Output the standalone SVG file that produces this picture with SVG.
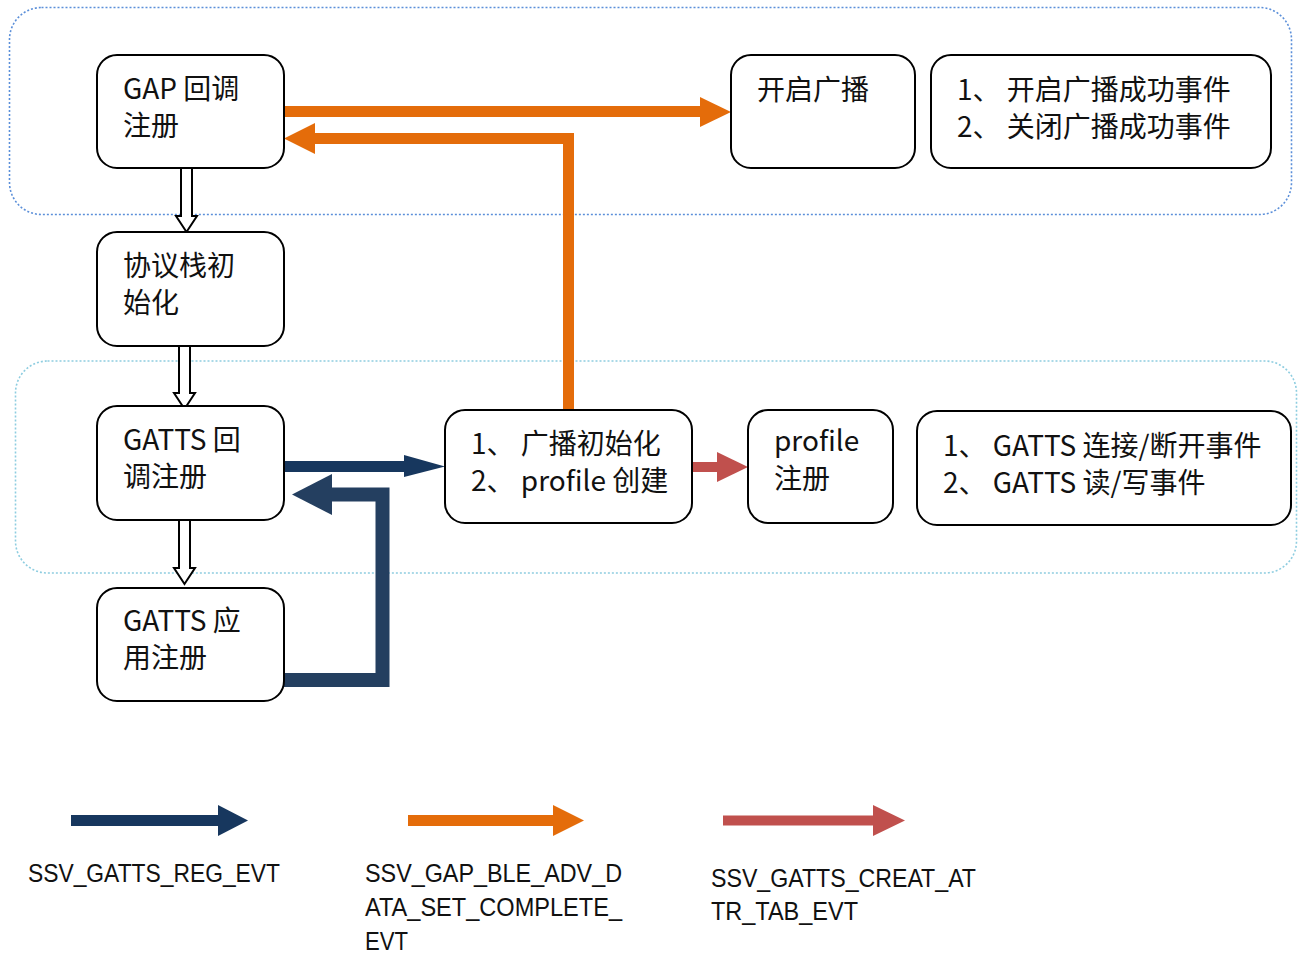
<svg xmlns="http://www.w3.org/2000/svg" width="1301" height="954" viewBox="0 0 1301 954">
<style>
.box{fill:#fff;stroke:#000;stroke-width:2}
.t{font-family:"Noto Sans CJK SC","Noto Sans",sans-serif;font-size:28px;fill:#111}
.lg{font-family:"Liberation Sans","Noto Sans CJK SC",sans-serif;font-size:26px;fill:#111}
.hollow{fill:#fff;stroke:#000;stroke-width:2;stroke-linejoin:miter}
.or{stroke:#E46C0A;fill:none;stroke-width:11}
.orh{fill:#E46C0A}
.nv{stroke:#17375E;fill:none;stroke-width:11}
.nvh{fill:#17375E}
.nv2{stroke:#243F60;fill:none;stroke-width:14}
.nv2h{fill:#243F60}
.rd{stroke:#C0504D;fill:none;stroke-width:10}
.rdh{fill:#C0504D}
</style>
<rect width="1301" height="954" fill="#fff"/>
<g id="containers">
<rect x="9.5" y="7.5" width="1282" height="207" rx="32" fill="none" stroke="#5B8FD9" stroke-width="1.6" stroke-dasharray="2 2"/>
<rect x="15.5" y="361" width="1281" height="212" rx="32" fill="none" stroke="#8ECDE0" stroke-width="1.6" stroke-dasharray="2 2"/>
</g>
<g id="connectors">
<path class="hollow" d="M181,168 H192 V216 H197 L186.5,232 L176,216 H181 Z"/>
<path class="hollow" d="M179,346 H190 V393 H195 L184.5,409 L174,393 H179 Z"/>
<path class="hollow" d="M179,520 H190 V568 H195 L184.5,584 L174,568 H179 Z"/>
<path class="or" d="M284,111.5 H701"/>
<polygon class="orh" points="700,97 731,112 700,127"/>
<path class="or" d="M568.5,410 V138.5 H314" stroke-linejoin="miter"/>
<polygon class="orh" points="315,123 284,138.5 315,154"/>
<path class="nv" d="M284,466.5 H405"/>
<polygon class="nvh" points="404,455 445,466.5 404,477"/>
<path class="nv2" d="M284,680 H382.5 V494.5 H331" stroke-linejoin="miter"/>
<polygon class="nv2h" points="332,474 292,494.5 332,515"/>
<path class="rd" d="M693,467 H718"/>
<polygon class="rdh" points="717,452 748,467 717,482"/>
</g>
<g id="n-gap">
<rect class="box" x="97" y="55" width="187" height="113" rx="20"/>
<text class="t" x="123" y="99">GAP 回调</text>
<text class="t" x="123" y="136">注册</text>
</g>
<g id="n-stack">
<rect class="box" x="97" y="232" width="187" height="114" rx="20"/>
<text class="t" x="123" y="276">协议栈初</text>
<text class="t" x="123" y="313">始化</text>
</g>
<g id="n-gatts-cb">
<rect class="box" x="97" y="406" width="187" height="114" rx="20"/>
<text class="t" x="123" y="450">GATTS 回</text>
<text class="t" x="123" y="487">调注册</text>
</g>
<g id="n-gatts-app">
<rect class="box" x="97" y="588" width="187" height="113" rx="20"/>
<text class="t" x="123" y="631">GATTS 应</text>
<text class="t" x="123" y="668">用注册</text>
</g>
<g id="n-adv-start">
<rect class="box" x="731" y="55" width="184" height="113" rx="20"/>
<text class="t" x="757" y="100">开启广播</text>
</g>
<g id="n-adv-events">
<rect class="box" x="931" y="55" width="340" height="113" rx="20"/>
<text class="t" x="957" y="100">1、 开启广播成功事件</text>
<text class="t" x="957" y="137">2、 关闭广播成功事件</text>
</g>
<g id="n-init">
<rect class="box" x="445" y="410" width="247" height="113" rx="20"/>
<text class="t" x="471" y="454">1、 广播初始化</text>
<text class="t" x="471" y="491">2、 profile 创建</text>
</g>
<g id="n-profile">
<rect class="box" x="748" y="410" width="145" height="113" rx="20"/>
<text class="t" x="774" y="451">profile</text>
<text class="t" x="774" y="489">注册</text>
</g>
<g id="n-gatts-events">
<rect class="box" x="917" y="411" width="374" height="114" rx="20"/>
<text class="t" x="943" y="456">1、 GATTS 连接/断开事件</text>
<text class="t" x="943" y="493">2、 GATTS 读/写事件</text>
</g>
<g id="legend">
<path class="nv" d="M71,820.5 H219"/>
<polygon class="nvh" points="218,805 248,820.5 218,836"/>
<path class="or" d="M408,820.5 H554"/>
<polygon class="orh" points="553,805 584,820.5 553,836"/>
<path class="rd" d="M723,820.5 H874"/>
<polygon class="rdh" points="873,805 905,820.5 873,836"/>
<text class="lg" x="28" y="882" textLength="252" lengthAdjust="spacingAndGlyphs">SSV_GATTS_REG_EVT</text>
<text class="lg" x="365" y="882" textLength="257" lengthAdjust="spacingAndGlyphs">SSV_GAP_BLE_ADV_D</text>
<text class="lg" x="365" y="916" textLength="257" lengthAdjust="spacingAndGlyphs">ATA_SET_COMPLETE_</text>
<text class="lg" x="365" y="950" textLength="43" lengthAdjust="spacingAndGlyphs">EVT</text>
<text class="lg" x="711" y="887" textLength="265" lengthAdjust="spacingAndGlyphs">SSV_GATTS_CREAT_AT</text>
<text class="lg" x="711" y="920" textLength="147" lengthAdjust="spacingAndGlyphs">TR_TAB_EVT</text>
</g>
</svg>
